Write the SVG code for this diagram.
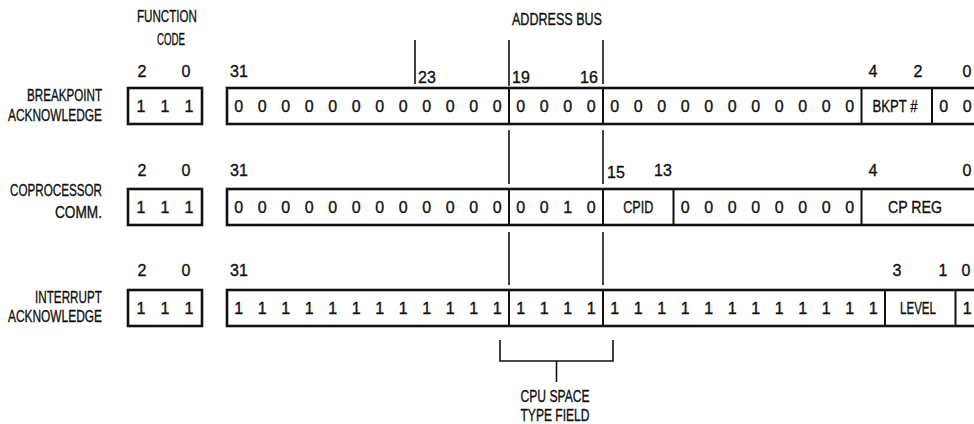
<svg xmlns="http://www.w3.org/2000/svg" width="974" height="424" viewBox="0 0 974 424">
<style>
text{font-family:"Liberation Sans",Arial,sans-serif;font-size:16px;fill:#111;stroke:#111;stroke-width:0.35;text-anchor:middle}
.lbl{text-anchor:end}
.box{fill:none;stroke:#111;stroke-width:2.6}
.div{stroke:#111;stroke-width:2}
.tick{stroke:#111;stroke-width:1.6;fill:none}
</style>
<rect width="974" height="424" fill="#fff"/>
<g id="headers">
<text x="167" y="22" textLength="60" lengthAdjust="spacingAndGlyphs">FUNCTION</text>
<text x="171" y="45" textLength="28" lengthAdjust="spacingAndGlyphs">CODE</text>
<text x="557" y="25" textLength="90" lengthAdjust="spacingAndGlyphs">ADDRESS BUS</text>
</g>
<g id="connectors">
<line class="tick" x1="415" y1="40" x2="415" y2="84"/>
<line class="tick" x1="509" y1="40" x2="509" y2="86"/>
<line class="tick" x1="603" y1="40" x2="603" y2="84"/>
<line class="tick" x1="509" y1="130" x2="509" y2="184"/>
<line class="tick" x1="603" y1="130" x2="603" y2="184"/>
<line class="tick" x1="509" y1="232" x2="509" y2="285"/>
<line class="tick" x1="603" y1="232" x2="603" y2="285"/>
<path class="tick" d="M500 340 V361 H613 V340 M556.5 361 V382"/>
</g>
<g id="cpu-space-label">
<text x="555" y="402" textLength="69" lengthAdjust="spacingAndGlyphs">CPU SPACE</text>
<text x="555" y="421" textLength="69" lengthAdjust="spacingAndGlyphs">TYPE FIELD</text>
</g>
<g id="breakpoint">
<text class="lbl" x="102" y="101" textLength="75" lengthAdjust="spacingAndGlyphs">BREAKPOINT</text>
<text class="lbl" x="102" y="121" textLength="94" lengthAdjust="spacingAndGlyphs">ACKNOWLEDGE</text>
<text x="142" y="77">2</text><text x="186" y="77">0</text>
<text x="239" y="77">31</text>
<text x="427" y="83">23</text><text x="521" y="83">19</text><text x="589" y="83">16</text>
<text x="873" y="77">4</text><text x="918" y="77">2</text><text x="967" y="77">0</text>
<rect class="box" x="128" y="88" width="74" height="36"/>
<text x="141" y="111.5">1</text><text x="165" y="111.5">1</text><text x="189" y="111.5">1</text>
<rect class="box" x="227" y="88" width="760" height="36"/>
<line class="div" x1="509" y1="88" x2="509" y2="124"/>
<line class="div" x1="603" y1="88" x2="603" y2="124"/>
<line class="div" x1="861.5" y1="88" x2="861.5" y2="124"/>
<line class="div" x1="932" y1="88" x2="932" y2="124"/>
<text x="238.8" y="111.5">0</text><text x="262.3" y="111.5">0</text><text x="285.8" y="111.5">0</text><text x="309.3" y="111.5">0</text><text x="332.8" y="111.5">0</text><text x="356.3" y="111.5">0</text><text x="379.8" y="111.5">0</text><text x="403.3" y="111.5">0</text><text x="426.8" y="111.5">0</text><text x="450.3" y="111.5">0</text><text x="473.8" y="111.5">0</text><text x="497.3" y="111.5">0</text>
<text x="520.8" y="111.5">0</text><text x="544.3" y="111.5">0</text><text x="567.8" y="111.5">0</text><text x="591.3" y="111.5">0</text>
<text x="614.8" y="111.5">0</text><text x="638.3" y="111.5">0</text><text x="661.8" y="111.5">0</text><text x="685.3" y="111.5">0</text><text x="708.8" y="111.5">0</text><text x="732.3" y="111.5">0</text><text x="755.8" y="111.5">0</text><text x="779.3" y="111.5">0</text><text x="802.8" y="111.5">0</text><text x="826.3" y="111.5">0</text><text x="849.8" y="111.5">0</text>
<text x="895" y="111.5" textLength="45" lengthAdjust="spacingAndGlyphs">BKPT #</text>
<text x="943.8" y="111.5">0</text><text x="967.3" y="111.5">0</text>
</g>
<g id="coprocessor">
<text class="lbl" x="102" y="196" textLength="92" lengthAdjust="spacingAndGlyphs">COPROCESSOR</text>
<text class="lbl" x="102" y="218" textLength="47" lengthAdjust="spacingAndGlyphs">COMM.</text>
<text x="142" y="176">2</text><text x="186" y="176">0</text>
<text x="239" y="176">31</text>
<text x="616" y="178">15</text><text x="663" y="176">13</text>
<text x="873" y="176">4</text><text x="967" y="176">0</text>
<rect class="box" x="128" y="189" width="74" height="36"/>
<text x="141" y="213">1</text><text x="165" y="213">1</text><text x="189" y="213">1</text>
<rect class="box" x="227" y="189" width="760" height="36"/>
<line class="div" x1="509" y1="189" x2="509" y2="225"/>
<line class="div" x1="603" y1="189" x2="603" y2="225"/>
<line class="div" x1="673.5" y1="189" x2="673.5" y2="225"/>
<line class="div" x1="861.5" y1="189" x2="861.5" y2="225"/>
<text x="238.8" y="213">0</text><text x="262.3" y="213">0</text><text x="285.8" y="213">0</text><text x="309.3" y="213">0</text><text x="332.8" y="213">0</text><text x="356.3" y="213">0</text><text x="379.8" y="213">0</text><text x="403.3" y="213">0</text><text x="426.8" y="213">0</text><text x="450.3" y="213">0</text><text x="473.8" y="213">0</text><text x="497.3" y="213">0</text>
<text x="520.8" y="213">0</text><text x="544.3" y="213">0</text><text x="567.8" y="213">1</text><text x="591.3" y="213">0</text>
<text x="638.3" y="213" textLength="30" lengthAdjust="spacingAndGlyphs">CPID</text>
<text x="685.3" y="213">0</text><text x="708.8" y="213">0</text><text x="732.3" y="213">0</text><text x="755.8" y="213">0</text><text x="779.3" y="213">0</text><text x="802.8" y="213">0</text><text x="826.3" y="213">0</text><text x="849.8" y="213">0</text>
<text x="915" y="213" textLength="54" lengthAdjust="spacingAndGlyphs">CP REG</text>
</g>
<g id="interrupt">
<text class="lbl" x="102" y="303" textLength="67" lengthAdjust="spacingAndGlyphs">INTERRUPT</text>
<text class="lbl" x="102" y="322" textLength="94" lengthAdjust="spacingAndGlyphs">ACKNOWLEDGE</text>
<text x="142" y="276">2</text><text x="186" y="276">0</text>
<text x="239" y="276">31</text>
<text x="897" y="276">3</text><text x="943" y="276">1</text><text x="966" y="276">0</text>
<rect class="box" x="128" y="290" width="74" height="36"/>
<text x="141" y="314">1</text><text x="165" y="314">1</text><text x="189" y="314">1</text>
<rect class="box" x="227" y="290" width="760" height="36"/>
<line class="div" x1="509" y1="290" x2="509" y2="326"/>
<line class="div" x1="603" y1="290" x2="603" y2="326"/>
<line class="div" x1="885" y1="290" x2="885" y2="326"/>
<line class="div" x1="955.5" y1="290" x2="955.5" y2="326"/>
<text x="238.8" y="314">1</text><text x="262.3" y="314">1</text><text x="285.8" y="314">1</text><text x="309.3" y="314">1</text><text x="332.8" y="314">1</text><text x="356.3" y="314">1</text><text x="379.8" y="314">1</text><text x="403.3" y="314">1</text><text x="426.8" y="314">1</text><text x="450.3" y="314">1</text><text x="473.8" y="314">1</text><text x="497.3" y="314">1</text>
<text x="520.8" y="314">1</text><text x="544.3" y="314">1</text><text x="567.8" y="314">1</text><text x="591.3" y="314">1</text>
<text x="614.8" y="314">1</text><text x="638.3" y="314">1</text><text x="661.8" y="314">1</text><text x="685.3" y="314">1</text><text x="708.8" y="314">1</text><text x="732.3" y="314">1</text><text x="755.8" y="314">1</text><text x="779.3" y="314">1</text><text x="802.8" y="314">1</text><text x="826.3" y="314">1</text><text x="849.8" y="314">1</text><text x="873.3" y="314">1</text>
<text x="918" y="314" textLength="36" lengthAdjust="spacingAndGlyphs">LEVEL</text>
<text x="967.3" y="314">1</text>
</g>
</svg>
